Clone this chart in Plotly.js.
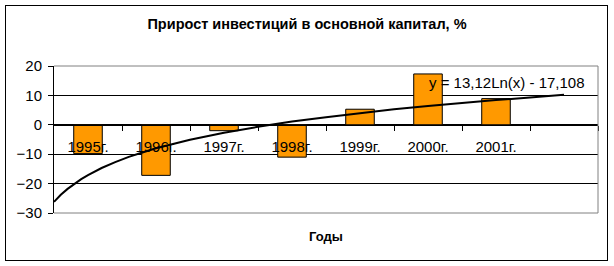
<!DOCTYPE html>
<html><head><meta charset="utf-8">
<script src="https://cdn.plot.ly/plotly-3.0.1.min.js"></script>
<style>
html,body{margin:0;padding:0;background:#fff;}
#wrap{position:relative;width:614px;height:266px;}
#chart{position:absolute;left:0;top:0;width:614px;height:266px;}
#frame{position:absolute;left:5px;top:5px;width:601px;height:254px;border:1.5px solid #000;pointer-events:none;}
</style>
</head><body>
<div id="wrap"><div id="chart"></div><div id="frame"></div></div>
<script>
const years = ['1995г.','1996г.','1997г.','1998г.','1999г.','2000г.','2001г.'];
const positions = [1,2,3,4,5,6,7];
const growth = [-9.8, -17.2, -2.0, -11.0, 5.3, 17.3, 8.9];
const trendX = [0.5,0.55,0.6,0.7,0.8,0.9,1,1.2,1.4,1.6,1.8,2,2.5,3,3.5,4,4.5,5,5.5,6,6.5,7,7.5,8];
const trendY = [-26.2,-25.0,-23.8,-21.8,-20.0,-18.5,-17.1,-14.7,-12.7,-10.9,-9.4,-8.0,-5.1,-2.7,-0.7,1.1,2.6,4.0,5.3,6.4,7.5,8.4,9.3,10.2];
const boundaries = [1.5,2.5,3.5,4.5,5.5,6.5,7.5,8.5];
const titleText = 'Прирост инвестиций в основной капитал, %';
const xTitle = 'Годы';
const trendLabel = 'y = 13,12Ln(x) - 17,108';

const font = 'Arial, "Liberation Sans", sans-serif';
const data = [
  {type:'bar', x:positions, y:growth, width:0.42,
   marker:{color:'#FF9900', line:{color:'#000', width:1}}, showlegend:false, hoverinfo:'none'},
  {type:'scatter', mode:'lines', x:trendX, y:trendY, line:{color:'#000', width:2},
   showlegend:false, hoverinfo:'none', xaxis:'x2'}
];
const layout = {
  width:614, height:266, paper_bgcolor:'#fff', plot_bgcolor:'#fff',
  margin:{l:54, r:16, t:66, b:53},
  font:{family:font, color:'#000', size:15},
  title:{text:titleText, font:{family:font, size:14.5, color:'#000', weight:'bold'},
         x:0.5, xref:'container', y:0.91, yref:'container', yanchor:'middle'},
  yaxis:{range:[-30,20], dtick:10, tick0:0, showgrid:true, gridcolor:'#000', gridwidth:1,
         zeroline:false, showline:true, linecolor:'#000', linewidth:1,
         ticks:'outside', ticklen:5, tickcolor:'#000', ticklabelstandoff:3,
         tickfont:{size:15}},
  xaxis:{range:[0.5,8.5], tickvals:positions, ticktext:years, ticks:'', showgrid:false,
         zeroline:false, showline:true, linecolor:'#000', linewidth:1,
         anchor:'free', position:0.6, tickfont:{size:15}, ticklabelstandoff:8},
  xaxis2:{range:[0.5,8.5], overlaying:'x', anchor:'free', position:0.6,
          tickvals:boundaries, ticks:'outside', ticklen:5, tickcolor:'#000',
          showticklabels:false, showgrid:false, zeroline:false, showline:false},
  shapes:[{type:'path', xref:'paper', yref:'paper', path:'M0,1 L1,1 L1,0 L0,0',
           line:{color:'#808080', width:1}, layer:'above'}],
  annotations:[
    {text:trendLabel, xref:'x', yref:'y', x:7.16, y:14.3, showarrow:false,
     font:{size:15, color:'#000'}, xanchor:'center', yanchor:'middle'},
    {text:xTitle, xref:'paper', yref:'paper', x:0.5, y:-0.163, showarrow:false,
     font:{size:13, color:'#000', weight:'bold'}, xanchor:'center', yanchor:'middle'}
  ]
};
Plotly.newPlot('chart', data, layout, {displayModeBar:false, staticPlot:true});
</script>
</body></html>
